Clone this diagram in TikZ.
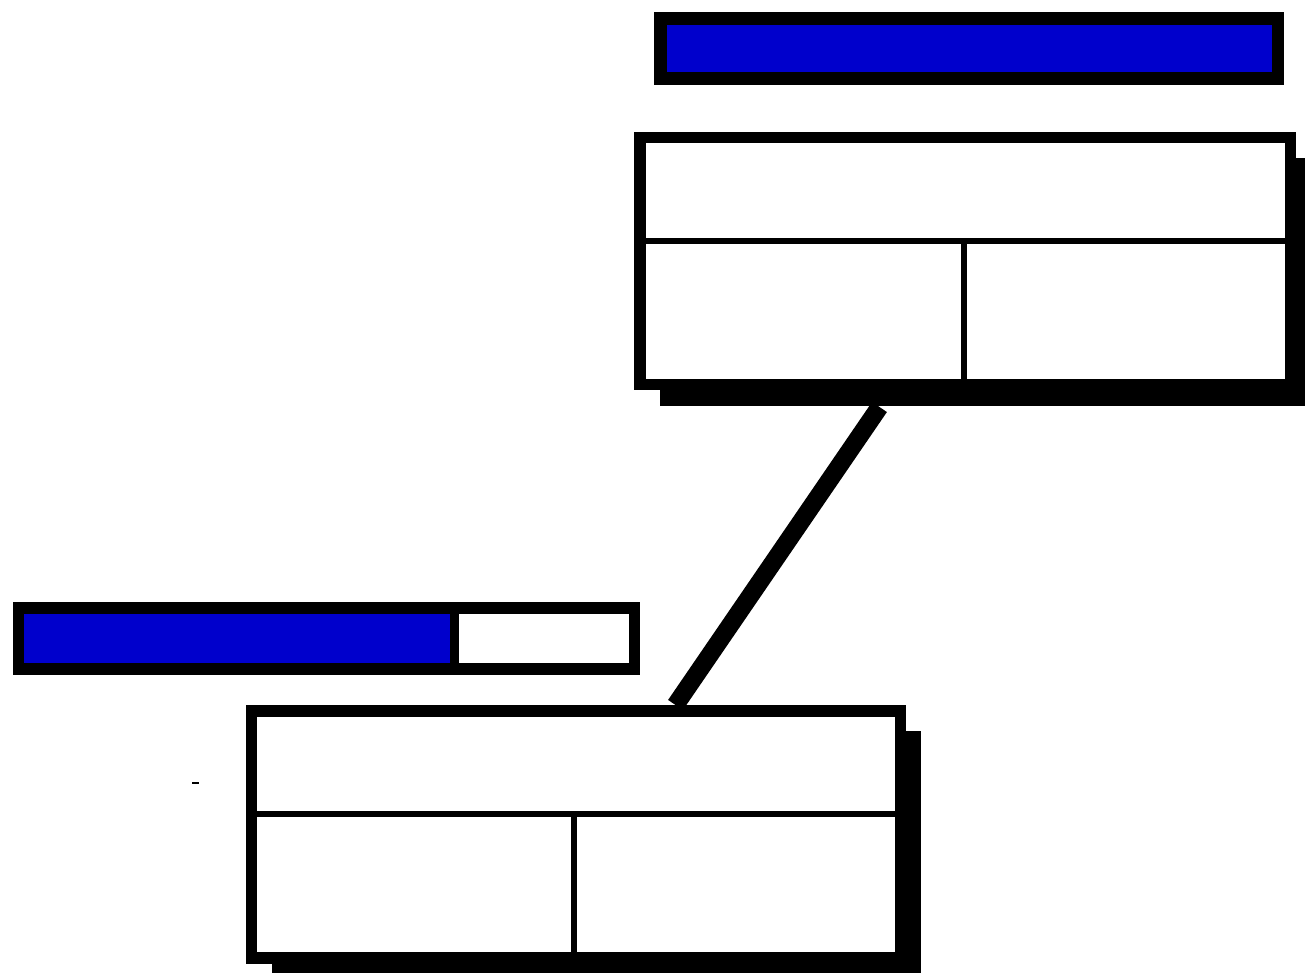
\documentclass[tikz,border=0pt]{standalone}
\usepackage{tikz}
\usepackage{xcolor}
\definecolor{barblue}{RGB}{0,0,204}

\begin{document}
\begin{tikzpicture}[x=0.01cm,y=-0.01cm,
    frame/.style={line width=3.27pt},
    divider/.style={line width=1.7pt},
    shadow/.style={fill=black}]
        \useasboundingbox (0,0) rectangle (1305,973);
        \coordinate (upperfoot) at (879.5,407);
        \coordinate (lowerhead) at (675.5,705);
        % top progress bar
        \draw[line width=3.56pt,fill=barblue] (660.7,18.5) rectangle (1278,78.5);
        % link between the two windows
        \draw[line width=5.1pt] (upperfoot) -- (lowerhead);
        % upper window
        \fill[shadow] (660,158) rectangle (1305,406);
        \draw[frame,fill=white] (640.2,137.3) rectangle (1290.4,384.5);
        \draw[divider] (640.2,240.7) -- (1290.4,240.7);
        \draw[divider] (963.6,240.7) -- (963.6,384.5);
        % left progress bar
        \fill[white] (18.7,608.2) rectangle (634.3,668.9);
        \fill[barblue] (18.7,608.2) rectangle (454.5,668.9);
        \draw[frame] (18.7,608.2) rectangle (634.3,668.9);
        \draw[line width=2.56pt] (454.5,608.2) -- (454.5,668.9);
        % lower window
        \fill[shadow] (272,731) rectangle (921,973);
        \draw[frame,fill=white] (251.5,710.8) rectangle (900.4,958);
        \draw[divider] (251.5,814) -- (900.4,814);
        \draw[divider] (574,814) -- (574,958);
        \draw[line width=0.45pt] (192,783) -- (199,783);
    \end{tikzpicture}
\end{document}
